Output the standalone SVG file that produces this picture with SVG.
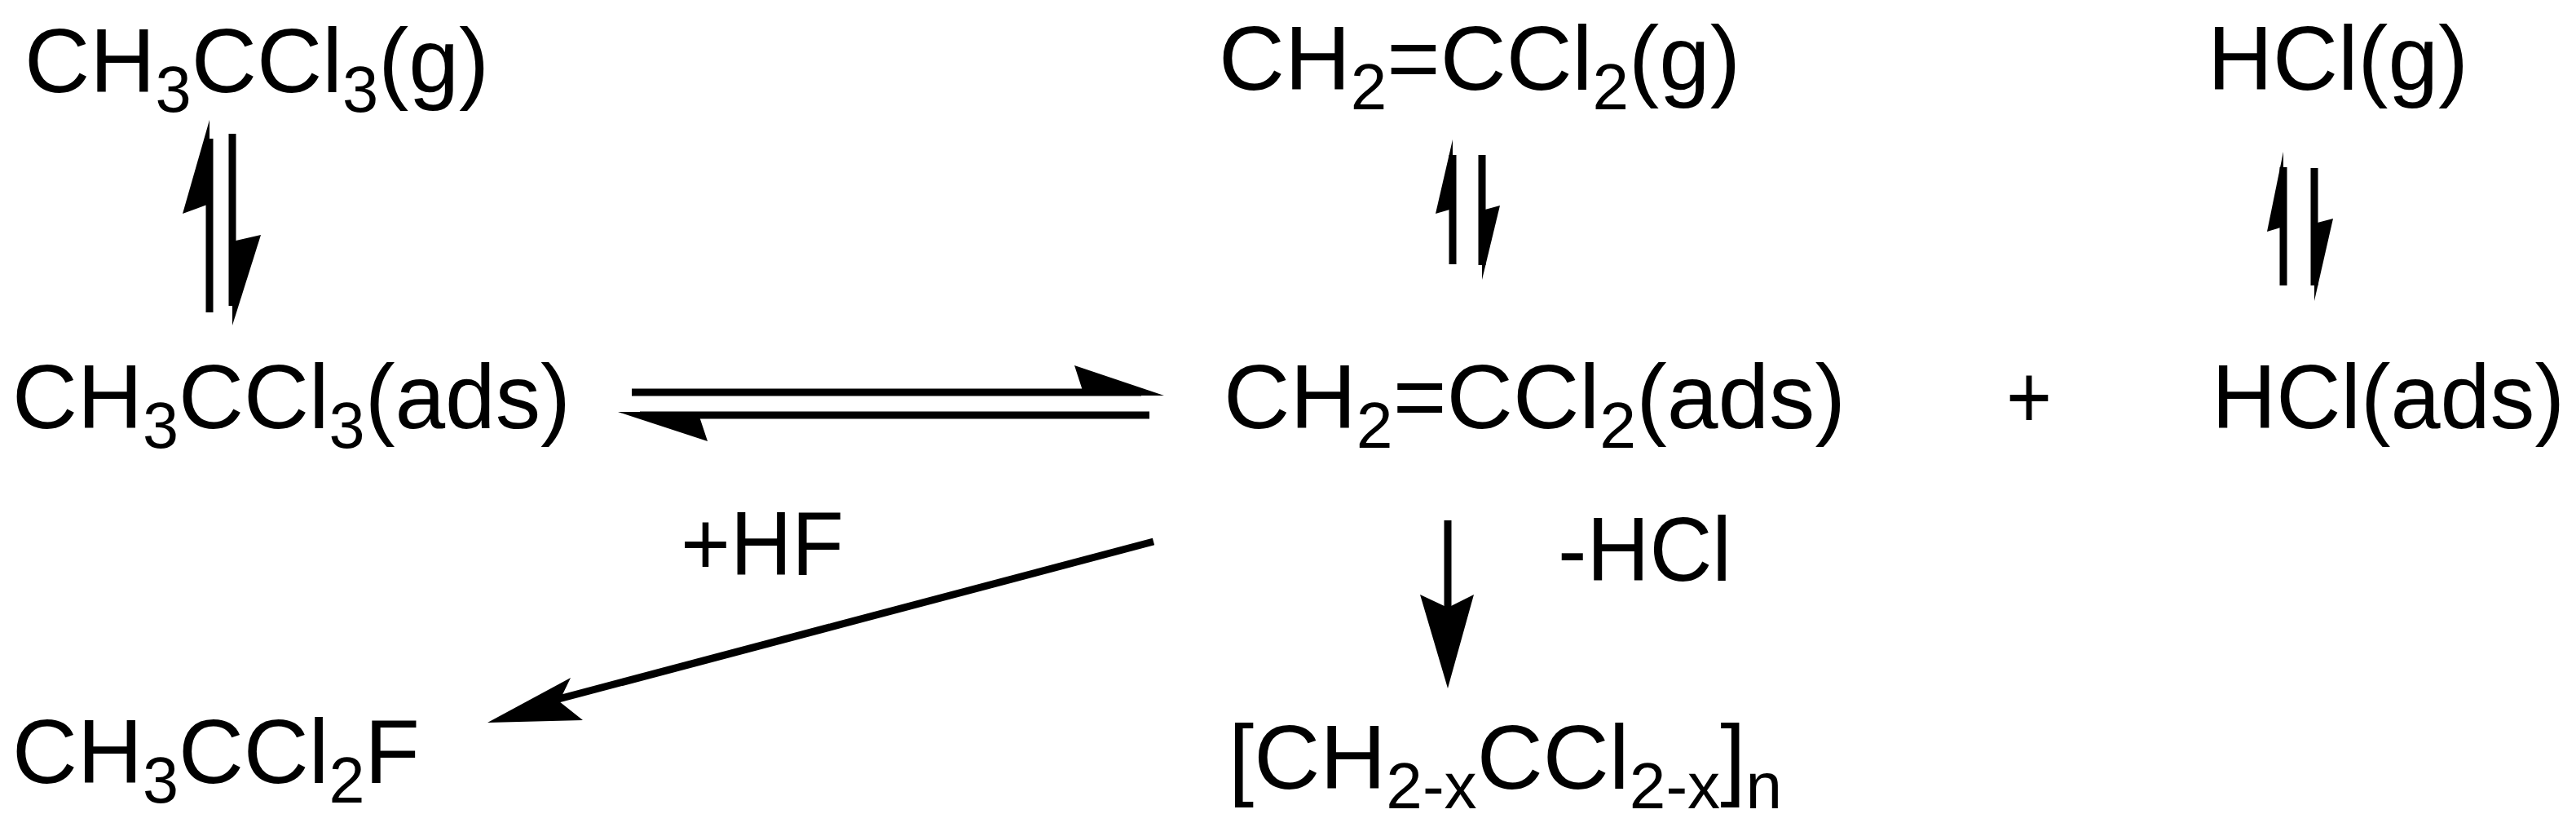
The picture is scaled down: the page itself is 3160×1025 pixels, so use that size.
<svg xmlns="http://www.w3.org/2000/svg" width="3160" height="1025" viewBox="0 0 3160 1025">
<style>
text{font-family:"Liberation Sans",Arial,sans-serif;font-size:112px;fill:#000}
.s{font-size:80px}
line{stroke:#000;stroke-width:9;fill:none}
</style>
<rect width="3160" height="1025" fill="#fff"/>
<g id="n1"><text x="30" y="113" textLength="570" lengthAdjust="spacingAndGlyphs">CH<tspan class="s" dy="24">3</tspan><tspan dy="-24">CCl</tspan><tspan class="s" dy="24">3</tspan><tspan dy="-24">(g)</tspan></text></g>
<g id="n2"><text x="15" y="525" textLength="685" lengthAdjust="spacingAndGlyphs">CH<tspan class="s" dy="24">3</tspan><tspan dy="-24">CCl</tspan><tspan class="s" dy="24">3</tspan><tspan dy="-24">(ads)</tspan></text></g>
<g id="n3"><text x="15" y="960" textLength="500" lengthAdjust="spacingAndGlyphs">CH<tspan class="s" dy="24">3</tspan><tspan dy="-24">CCl</tspan><tspan class="s" dy="24">2</tspan><tspan dy="-24">F</tspan></text></g>
<g id="n4"><text x="1495" y="110" textLength="640" lengthAdjust="spacingAndGlyphs">CH<tspan class="s" dy="24">2</tspan><tspan dy="-24">=CCl</tspan><tspan class="s" dy="24">2</tspan><tspan dy="-24">(g)</tspan></text></g>
<g id="n5"><text x="1501" y="525" textLength="763" lengthAdjust="spacingAndGlyphs">CH<tspan class="s" dy="24">2</tspan><tspan dy="-24">=CCl</tspan><tspan class="s" dy="24">2</tspan><tspan dy="-24">(ads)</tspan></text></g>
<g id="n6"><text x="1507" y="967" textLength="679" lengthAdjust="spacingAndGlyphs">[CH<tspan class="s" dy="24">2-x</tspan><tspan dy="-24">CCl</tspan><tspan class="s" dy="24">2-x</tspan><tspan dy="-24">]</tspan><tspan class="s" dy="24">n</tspan></text></g>
<g id="n7"><text x="2708" y="110" textLength="320" lengthAdjust="spacingAndGlyphs">HCl(g)</text></g>
<g id="n8"><text x="2713" y="525" textLength="433" lengthAdjust="spacingAndGlyphs">HCl(ads)</text></g>
<g id="plus"><text x="2461" y="525" textLength="56" lengthAdjust="spacingAndGlyphs">+</text></g>
<g id="lbl1"><text x="835" y="705" textLength="200" lengthAdjust="spacingAndGlyphs">+HF</text></g>
<g id="lbl2"><text x="1911" y="712" textLength="213" lengthAdjust="spacingAndGlyphs">-HCl</text></g>
<g id="connectors">
<line x1="257" y1="383" x2="257" y2="170"/><path d="M257,147 L224,262 L257,250 Z"/>
<line x1="285" y1="164" x2="285" y2="375"/><path d="M285,399 L320,288 L285,296 Z"/>
<line x1="1782" y1="324" x2="1782" y2="190"/><path d="M1782,171 L1761,262 L1782,256 Z"/>
<line x1="1818" y1="190" x2="1818" y2="325"/><path d="M1818,343 L1840,252 L1818,258 Z"/>
<line x1="2801" y1="350" x2="2801" y2="205"/><path d="M2801,186 L2781,284 L2801,278 Z"/>
<line x1="2839" y1="206" x2="2839" y2="350"/><path d="M2839,369 L2862,268 L2839,274 Z"/>
<line x1="775" y1="481" x2="1400" y2="481"/><path d="M1428,485 L1318,448 L1330,485 Z"/>
<line x1="1410" y1="509" x2="785" y2="509"/><path d="M758,505 L868,541 L856,505 Z"/>
<line x1="1415" y1="664" x2="640" y2="869"/><path d="M598,886 L700,831 L686,860 L715,883 Z"/>
<line x1="1776" y1="638" x2="1776" y2="760"/><path d="M1776,844 L1742,729 L1776,745 L1808,729 Z"/>
</g>
</svg>
